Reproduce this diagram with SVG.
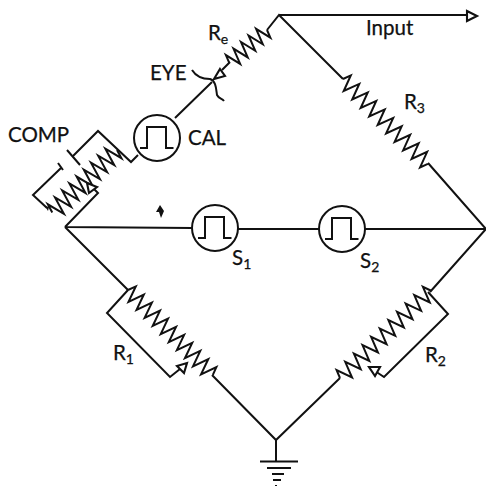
<svg xmlns="http://www.w3.org/2000/svg" width="486" height="486" viewBox="0 0 486 486">
<style>
.w{fill:none;stroke:#111;stroke-width:2;stroke-linejoin:miter}
.h{fill:#fff;stroke:#111;stroke-width:2.100}
.t{font-family:Lato,"Open Sans",sans-serif;font-size:20.500px;fill:#111;stroke:#111;stroke-width:.25}
.s{font-size:14px}
</style>
<defs>
<g id="gauge"><circle class="w" r="23"/><path class="w" d="M-17 10h7v-21h19v21h7.500"/></g>
</defs>
<g id="connectors">
<path class="w" d="M65 227 128 290M212 375 276 440 340 378M430 292 486 229 428 163M343 79 279 15 267 30M230 62 222 70M279 15H467"/>
<path class="w" d="M212 82 175 118M138 155 131 162 98 131 73 156M61 168 33 195 47 208M65 227 98 193 92 187M65 227 192 228M238 229 319 229M365 229 486 229"/>
<path class="w" d="M128 290 107 313 170 377 180 369M428 292 448 314 384 377 375 371"/>
<path class="w" d="M276 440V461"/>
</g>
<g id="R3"><path class="w" transform="translate(343 79) rotate(45)" d="M0 0l3-8 6 16 6-16 6 16 6-16 6 16 6-16 6 16 6-16 6 16 6-16 6 16 6-16 6 16 6-16 6 16 6-16 6 16 6-16 6 16 3-8"/><text class="t" x="404" y="109">R<tspan class="s" dy="4">3</tspan></text></g>
<g id="Re"><path class="w" transform="translate(267 30) rotate(139)" d="M0 0l2.500-8 5 16 5-16 5 16 5-16 5 16 5-16 5 16 5-16 5 16 2.500-8"/><text class="t" x="208" y="40">R<tspan class="s" dy="4">e</tspan></text><path class="h" d="M220 69 225 76 214 79Z"/></g>
<g id="eye"><path class="w" d="M192 70C197 78 204 79 210 79 216 81 216 88 217 95 219 99 222 98 224 101"/><text class="t" x="150" y="80">EYE</text></g>
<g id="input"><path class="h" d="M467 11 477 16 467 21Z"/><text class="t" x="366" y="35">Input</text></g>
<g id="cal"><use href="#gauge" x="157" y="138"/><text class="t" x="188" y="145">CAL</text></g>
<g id="comp"><path class="w" transform="translate(117 150) rotate(136)" d="M0 0l2.500-9 5 18 5-18 5 18 5-18 5 18 5-18 5 18 5-18 5 18 5-18 5 18 5-18 5 18 5-18 5 18 5-18 5 18 2.500-9"/><path class="w" d="M67 150 80 165M58 163 63 170"/><path class="h" d="M87 183 97 187 89 193Z"/><path d="M45 206 49 207 48 211Z" fill="#111"/><text class="t" x="8" y="142">COMP</text></g>
<g id="S1"><use href="#gauge" x="215" y="228"/><text class="t" x="232" y="265">S<tspan class="s" dy="4">1</tspan></text></g>
<g id="S2"><use href="#gauge" x="342" y="229"/><text class="t" x="360" y="268">S<tspan class="s" dy="4">2</tspan></text></g>
<path id="mark" d="M160 205 164 211 161 218 159 212 156 212Z" fill="#111"/>
<g id="R1"><path class="w" transform="translate(128 290) rotate(45)" d="M0 0l3-8 5.700 16 5.700-16 5.700 16 5.700-16 5.700 16 5.700-16 5.700 16 5.700-16 5.700 16 5.700-16 5.700 16 5.700-16 5.700 16 5.700-16 5.700 16 5.700-16 5.700 16 5.700-16 5.700 16 5.700-16 3 8"/><path class="h" d="M177 366 187 363 184 373Z"/><text class="t" x="113" y="360">R<tspan class="s" dy="4">1</tspan></text></g>
<g id="R2"><path class="w" transform="translate(340 378) rotate(-44)" d="M0 0l3-8 6 16 6-16 6 16 6-16 6 16 6-16 6 16 6-16 6 16 6-16 6 16 6-16 6 16 6-16 6 16 6-16 6 16 6-16 6 16 6-16 3 8"/><path class="h" d="M369 367 380 367 375 376Z"/><text class="t" x="425" y="362">R<tspan class="s" dy="4">2</tspan></text></g>
<g id="ground"><path class="w" d="M260 461.500H298M267 468H291M272 474H284M273 480H281"/><path d="M275 485h2v1h-2z" fill="#111"/></g>
</svg>
